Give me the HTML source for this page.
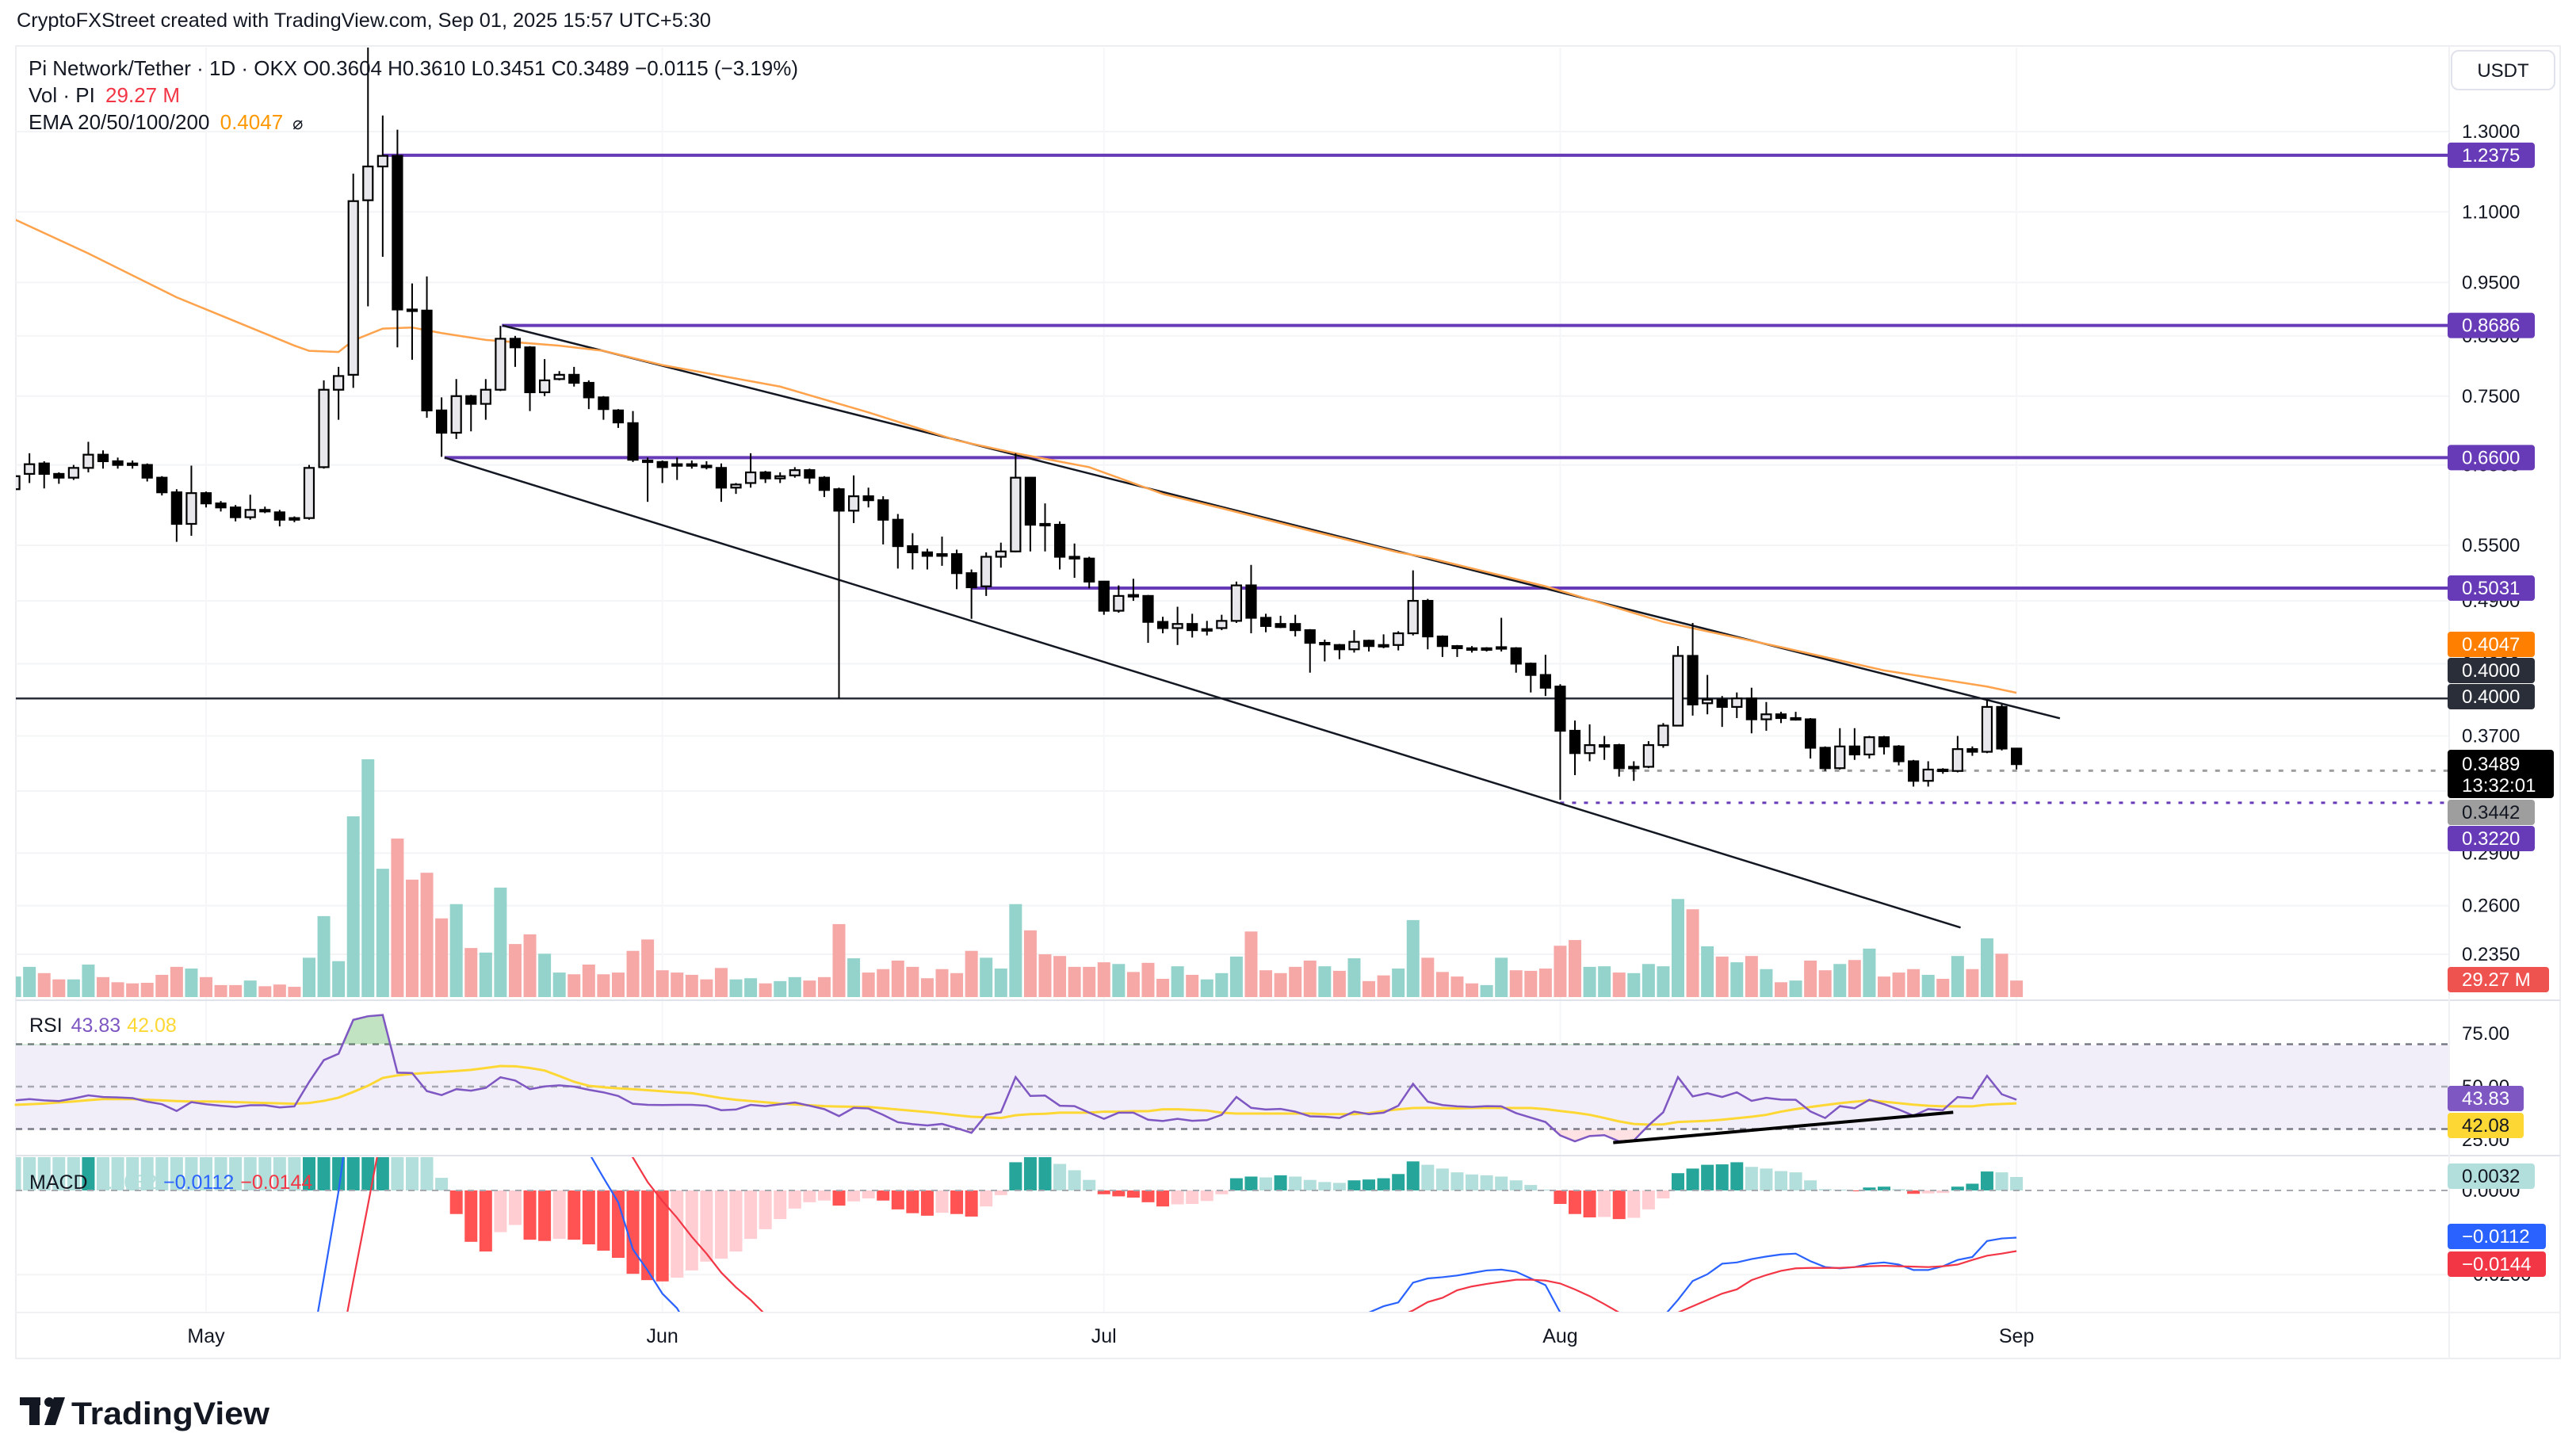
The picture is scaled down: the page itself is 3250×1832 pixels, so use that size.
<!DOCTYPE html>
<html><head><meta charset="utf-8"><title>Pi Network/Tether chart</title>
<style>
html,body{margin:0;padding:0;background:#fff;width:3250px;height:1832px;overflow:hidden;}
svg{display:block;font-family:"Liberation Sans",Arial,sans-serif;}
</style></head>
<body>
<svg id="chart" width="3250" height="1832" viewBox="0 0 3250 1832" xmlns="http://www.w3.org/2000/svg">
<defs>
<clipPath id="mainClip"><rect x="20" y="60" width="3070" height="1202"/></clipPath>
<clipPath id="rsiClip"><rect x="20" y="1264" width="3070" height="192"/></clipPath>
<clipPath id="macdClip"><rect x="20" y="1460" width="3070" height="195"/></clipPath>
<clipPath id="obClip"><rect x="20" y="1264" width="3070" height="54.5"/></clipPath>
<clipPath id="osClip"><rect x="20" y="1425.5" width="3070" height="32"/></clipPath>
</defs>
<rect x="0" y="0" width="3250" height="1832" fill="#ffffff"/>
<text x="21" y="34" font-size="25" fill="#131722" textLength="876" lengthAdjust="spacingAndGlyphs">CryptoFXStreet created with TradingView.com, Sep 01, 2025 15:57 UTC+5:30</text>
<rect x="20" y="58" width="3210" height="1656" fill="none" stroke="#eceef2" stroke-width="2"/>
<g id="grid"></g>
<rect x="20" y="1318.5" width="3070" height="107" fill="#f1edf9"/>
<g id="vol" clip-path="url(#mainClip)"></g>
<g id="levels" clip-path="url(#mainClip)"></g>
<g id="ema" clip-path="url(#mainClip)"></g>
<g id="candles" clip-path="url(#mainClip)"></g>
<g id="rsi"></g>
<g id="macd" clip-path="url(#macdClip)"></g>
<line x1="20" y1="1262" x2="3230" y2="1262" stroke="#e0e3eb" stroke-width="2"/>
<line x1="20" y1="1458" x2="3230" y2="1458" stroke="#e0e3eb" stroke-width="2"/>
<line x1="20" y1="1656" x2="3230" y2="1656" stroke="#f0f1f4" stroke-width="2"/>
<line x1="3090" y1="58" x2="3090" y2="1714" stroke="#f0f1f4" stroke-width="2"/>
<g id="axis"></g>
<g id="taxis"></g>
<rect x="3093" y="64" width="130" height="49" rx="9" fill="#fff" stroke="#e0e3eb" stroke-width="2"/>
<text x="3158" y="97" font-size="24" fill="#131722" text-anchor="middle">USDT</text>
<g font-size="26" fill="#131722">
<text x="36" y="95" textLength="971" lengthAdjust="spacingAndGlyphs">Pi Network/Tether · 1D · OKX  O0.3604  H0.3610  L0.3451  C0.3489  −0.0115 (−3.19%)</text>
<text x="36" y="129">Vol · PI <tspan fill="#f23645" dx="6">29.27 M</tspan></text>
<text x="36" y="163">EMA 20/50/100/200 <tspan fill="#ff9800" dx="6">0.4047</tspan><tspan dx="12" font-size="22">⌀</tspan></text>
<text x="37" y="1302" font-size="25">RSI <tspan fill="#7e57c2" dx="4">43.83</tspan><tspan fill="#fdd835" dx="8">42.08</tspan></text>
<text x="37" y="1500" font-size="25">MACD <tspan fill="#b2dfdb" dx="4">0.0032</tspan><tspan fill="#2962ff" dx="8">−0.0112</tspan><tspan fill="#f23645" dx="8">−0.0144</tspan></text>
</g>
<g fill="#131722">
<rect x="25" y="1763" width="26" height="10"/>
<rect x="37" y="1763" width="13" height="35"/>
<circle cx="62" cy="1769" r="6"/>
<polygon points="68,1763 82,1763 70,1798 56,1798"/>
<text x="90" y="1797" font-size="40" font-weight="bold" textLength="250" lengthAdjust="spacingAndGlyphs">TradingView</text>
</g>
</svg>
<script>
// ---------- data ----------
const startDay = -13; // Apr 18 = day -13, May 1 = day 0
const opens = [.618,.638,.652,.638,.633,.646,.664,.655,.652,.650,.633,.614,.575,.613,.600,.595,.583,.592,.589,.582,.582,.647,.760,.784,1.127,1.209,1.236,.898,.896,.728,.695,.750,.738,.760,.845,.830,.756,.777,.784,.771,.748,.728,.709,.656,.654,.651,.651,.649,.646,.620,.626,.640,.632,.636,.643,.633,.618,.591,.609,.604,.580,.549,.542,.540,.540,.519,.505,.537,.543,.633,.575,.574,.537,.535,.510,.480,.496,.495,.469,.463,.467,.462,.463,.470,.506,.473,.467,.467,.461,.449,.447,.443,.451,.447,.447,.458,.490,.455,.446,.444,.444,.444,.444,.430,.420,.410,.374,.357,.363,.363,.346,.347,.363,.378,.437,.396,.399,.393,.400,.383,.387,.384,.383,.361,.346,.362,.356,.369,.362,.351,.337,.345,.344,.360,.358,.393,.3604];
const highs = [.640,.666,.655,.640,.650,.682,.670,.660,.656,.652,.635,.618,.649,.615,.603,.598,.611,.596,.592,.584,.650,.775,.797,1.191,1.564,1.344,1.305,.948,.962,.748,.777,.752,.777,.868,.850,.832,.810,.790,.797,.775,.750,.730,.727,.660,.656,.660,.656,.655,.652,.626,.666,.642,.640,.647,.645,.635,.620,.636,.620,.609,.587,.564,.546,.560,.545,.523,.542,.553,.666,.634,.600,.578,.552,.537,.510,.506,.513,.496,.474,.484,.477,.470,.476,.510,.528,.477,.475,.476,.462,.452,.448,.461,.452,.457,.460,.522,.492,.456,.447,.446,.445,.473,.445,.431,.438,.412,.382,.379,.370,.364,.351,.366,.380,.446,.468,.420,.402,.405,.409,.397,.389,.389,.384,.362,.376,.376,.370,.370,.363,.352,.351,.346,.370,.362,.399,.395,.3610];
const lows = [.610,.626,.619,.625,.630,.640,.645,.645,.645,.628,.610,.554,.561,.595,.590,.578,.580,.588,.572,.577,.580,.645,.714,.763,.904,1.002,.830,.809,.717,.661,.686,.697,.714,.758,.797,.727,.750,.775,.765,.730,.714,.702,.654,.602,.626,.630,.645,.644,.602,.612,.620,.626,.626,.633,.625,.608,.400,.576,.595,.551,.524,.523,.523,.527,.502,.472,.495,.525,.542,.543,.543,.523,.514,.503,.476,.478,.490,.449,.458,.447,.454,.456,.461,.468,.458,.459,.463,.455,.422,.432,.434,.440,.441,.444,.442,.456,.443,.436,.436,.440,.441,.441,.422,.405,.402,.324,.341,.351,.352,.340,.337,.346,.361,.378,.386,.387,.377,.384,.372,.374,.380,.382,.353,.344,.345,.352,.353,.356,.348,.333,.333,.342,.343,.355,.357,.359,.3451];
const closes = [.635,.651,.638,.633,.646,.664,.655,.650,.651,.633,.614,.575,.613,.600,.595,.583,.592,.591,.580,.580,.646,.760,.782,1.125,1.209,1.236,.898,.896,.728,.695,.750,.738,.760,.845,.830,.756,.775,.784,.771,.748,.730,.710,.657,.654,.647,.650,.650,.648,.620,.624,.640,.632,.635,.643,.633,.617,.591,.609,.604,.580,.549,.542,.538,.538,.519,.504,.537,.543,.633,.574,.574,.537,.535,.510,.480,.495,.495,.469,.463,.467,.461,.462,.470,.506,.473,.465,.464,.461,.449,.449,.443,.450,.446,.446,.458,.490,.455,.446,.444,.443,.444,.445,.430,.420,.409,.374,.357,.363,.363,.346,.347,.363,.378,.437,.395,.399,.393,.400,.383,.387,.384,.384,.361,.346,.362,.356,.369,.362,.351,.337,.345,.344,.360,.358,.393,.3604,.3489];
const volumes = [36,53,42,31,31,57,35,26,24,25,39,53,50,35,21,21,29,19,22,18,69,142,63,317,417,225,278,206,218,138,163,86,78,192,93,110,76,43,40,57,40,43,81,101,47,43,39,31,51,31,33,24,28,35,29,35,128,68,43,49,64,53,33,49,42,81,69,50,163,117,75,72,53,53,61,58,44,60,32,54,39,31,42,71,115,47,42,53,64,54,46,68,28,38,50,135,69,44,36,24,21,69,47,46,50,90,100,53,54,43,42,58,54,172,154,89,71,61,72,49,26,29,64,47,58,65,85,36,43,49,39,32,72,49,103,76,29];
const emaDays = [-13,-8,-2,6,7,9,10,12,14,16,19,24,27,31,39,45,51,55,60,65,69,75,81,83,91,99,107,114,121,123];
const emaValues = [1.083,1.009,.921,.833,.824,.822,.842,.863,.865,.855,.843,.833,.824,.800,.765,.725,.684,.666,.647,.612,.594,.567,.542,.536,.505,.469,.445,.424,.410,.4047];
const rsiValues = [43.5,44.1,43.5,43.2,44.4,45.9,45.1,44.9,44.6,42.9,41.7,38.5,42.7,41.7,41.0,40.4,41.2,41.2,40.2,40.7,52.2,62.5,65.5,81.5,83.2,83.8,56.6,56.4,47.9,46.0,48.8,48.1,49.4,54.4,52.9,48.8,50.1,50.6,50.0,48.5,47.3,45.6,41.9,41.4,41.3,41.4,41.4,41.0,38.9,39.2,41.4,40.8,41.7,42.5,41.0,39.4,36.1,40.0,39.7,36.7,33.2,32.3,31.7,32.4,30.4,28.2,36.7,37.9,54.5,45.6,45.8,41.0,40.8,37.7,34.8,37.7,37.7,34.4,33.8,34.8,33.9,34.2,36.7,45.1,40.0,39.2,39.5,38.2,36.0,35.8,35.2,38.2,37.0,37.7,41.0,51.3,42.9,41.3,40.7,40.4,40.8,40.7,37.5,35.4,33.3,27.0,24.2,26.7,27.1,24.2,24.6,31.7,37.9,54.5,45.4,46.9,45.1,47.3,43.3,44.7,43.9,43.8,38.3,35.2,40.8,39.8,43.8,41.7,39.2,36.3,39.4,38.9,45.1,44.5,55.1,46.4,43.83];
const rsiMaValues = [41.4,41.7,42.0,42.5,43.0,43.6,44.1,44.1,44.1,43.8,43.5,43.2,43.0,43.0,42.9,42.7,42.5,42.3,42.1,41.9,42.3,43.3,44.8,47.5,50.4,54.1,55.3,56.0,56.5,56.9,57.4,57.9,58.8,59.7,59.6,58.8,57.6,55.0,52.3,50.4,49.7,49.2,48.8,48.3,47.8,47.3,46.9,45.8,44.6,43.8,43.2,42.6,42.0,41.6,41.2,40.8,40.6,40.5,40.4,39.8,39.2,38.6,38.0,37.3,36.5,35.8,35.5,35.2,36.5,37.0,37.2,37.7,37.7,37.7,38.2,38.2,38.4,38.4,39.3,39.3,39.0,38.7,37.7,37.3,37.3,37.3,37.3,37.3,37.3,37.0,37.0,37.0,37.5,38.5,39.3,39.9,40.0,39.8,39.7,39.9,40.0,39.9,39.9,39.9,39.4,38.5,37.7,36.7,35.2,33.6,32.4,32.1,32.2,33.3,33.6,33.9,34.4,35.1,35.8,36.7,38.2,39.4,40.4,41.3,42.2,42.9,43.5,42.9,42.2,41.5,41.0,40.7,40.7,40.7,41.5,41.8,42.08];
const histValues = [.030,.028,.026,.024,.022,.023,.021,.019,.017,.016,.015,.014,.013,.012,.011,.0105,.010,.0097,.0094,.0090,.012,.020,.030,.045,.060,.065,.055,.040,.030,.0030,-.0056,-.0122,-.0145,-.0099,-.0082,-.0117,-.0120,-.0115,-.0117,-.0128,-.0143,-.0160,-.0198,-.0213,-.0216,-.0207,-.0190,-.0169,-.0162,-.0145,-.0115,-.0092,-.0068,-.0043,-.0028,-.0024,-.0036,-.0026,-.0019,-.0024,-.0045,-.0054,-.0060,-.0053,-.0056,-.0062,-.0038,-.0011,.0067,.0085,.0092,.0063,.0048,.0025,-.0009,-.0014,-.0017,-.0028,-.0038,-.0033,-.0032,-.0025,-.0009,.0029,.0033,.0031,.0036,.0033,.0025,.0020,.0018,.0024,.0026,.0029,.0039,.0069,.0061,.0052,.0043,.0038,.0036,.0033,.0024,.0013,.0002,-.0032,-.0056,-.0064,-.0063,-.0068,-.0065,-.0045,-.0019,.0041,.0052,.0061,.0062,.0067,.0056,.0052,.0046,.0043,.0024,.0003,.0002,-.0002,.0007,.0009,.0003,-.0008,-.0007,-.0006,.0009,.0016,.0045,.0043,.0032];
const macdValues = [-.075,-.072,-.070,-.068,-.066,-.062,-.060,-.058,-.056,-.055,-.054,-.053,-.051,-.050,-.049,-.048,-.047,-.046,-.045,-.043,-.041,-.0208,-.0002,.025,.055,.075,.075,.070,.062,.052,.045,.038,.032,.030,.027,.022,.019,.016,.013,.009,.003,-.0028,-.014,-.019,-.0245,-.028,-.034,-.038,-.042,-.045,-.047,-.048,-.049,-.049,-.049,-.049,-.050,-.050,-.049,-.049,-.050,-.051,-.052,-.052,-.053,-.054,-.053,-.050,-.044,-.042,-.040,-.040,-.040,-.041,-.043,-.044,-.045,-.046,-.047,-.047,-.047,-.046,-.044,-.040,-.039,-.038,-.037,-.036,-.036,-.035,-.034,-.032,-.029,-.0275,-.0266,-.0219,-.0209,-.0206,-.0202,-.0196,-.0190,-.0188,-.0193,-.0209,-.0225,-.029,-.035,-.040,-.040,-.040,-.038,-.034,-.030,-.026,-.0215,-.0199,-.0174,-.0171,-.0163,-.0157,-.0152,-.0150,-.0168,-.0182,-.0185,-.0182,-.0174,-.0171,-.0176,-.0189,-.0189,-.0180,-.0165,-.0158,-.0120,-.0114,-.0112];
const signalValues = [-.105,-.100,-.096,-.092,-.088,-.085,-.081,-.077,-.073,-.071,-.069,-.067,-.064,-.062,-.060,-.0585,-.057,-.0557,-.0544,-.052,-.053,-.041,-.040,-.0215,-.0034,.015,.030,.035,.036,.045,.050,.050,.046,.040,.035,.034,.031,.028,.024,.020,.016,.012,.0078,.002,-.0025,-.0065,-.011,-.015,-.0195,-.023,-.026,-.0295,-.033,-.036,-.039,-.041,-.043,-.045,-.046,-.047,-.047,-.047,-.047,-.047,-.048,-.048,-.049,-.049,-.049,-.050,-.050,-.049,-.047,-.046,-.045,-.045,-.045,-.045,-.044,-.044,-.044,-.044,-.043,-.043,-.042,-.041,-.040,-.039,-.038,-.037,-.036,-.035,-.034,-.032,-.030,-.0285,-.0265,-.0255,-.0237,-.0228,-.0222,-.0217,-.0212,-.0212,-.0214,-.0221,-.0235,-.0251,-.027,-.029,-.031,-.031,-.030,-.029,-.0275,-.026,-.0245,-.0235,-.0213,-.0201,-.0191,-.0185,-.0184,-.0184,-.0184,-.0182,-.0180,-.0179,-.0180,-.0181,-.0182,-.0180,-.0176,-.0165,-.0155,-.0150,-.0144];
const priceTicks = [1.3,1.1,0.95,0.85,0.75,0.65,0.55,0.49,0.43,0.37,0.33,0.29,0.26,0.235];
const rsiTicks = [75,50,25];
const macdTicks = [0,-0.02];
const monthLabels = ['May','Jun','Jul','Aug','Sep'];
const monthDays = [0,31,61,92,123];
// horizontal levels: price, start day
const levelPrices = [1.2375,0.8686,0.66,0.5031];
const levelStarts = [12,20.1,16.2,52];
// trend line anchors (day, price)
const upperTrend = [[20.14,0.8686],[125.95,0.3838]];
const lowerTrend = [[16.2,0.66],[119.2,0.2484]];
const rsiDivergence = [[95.6,23.6],[118.7,37.9]];

// ---------- scales ----------
const NS='http://www.w3.org/2000/svg';
const xD = d => 260 + d*18.57;
const yP = p => 166 + (Math.log(1.3) - Math.log(p))*606.8;
const yV = v => 1258 - v*0.7194;
const yR = v => 1371 - (v-50)*2.675;
const yM = v => 1502 - v*5312;
function mk(tag, attrs, parent){const e=document.createElementNS(NS,tag);for(const k in attrs)e.setAttribute(k,attrs[k]);parent.appendChild(e);return e;}
const $ = id => document.getElementById(id);

// grid
const grid=$('grid');
priceTicks.forEach(p=>{
  const l=mk('line',{x1:20,x2:3090,y1:yP(p),y2:yP(p),stroke:'#f3f4f6','stroke-width':2},grid);
  
  
});
monthDays.forEach(d=>{
  const l=mk('line',{x1:xD(d),x2:xD(d),y1:60,y2:1656,stroke:'#f5f6f8','stroke-width':2},grid);
  
  
});
[yM(-0.02)].forEach(y=>{
  const l=mk('line',{x1:20,x2:3090,y1:y,y2:y,stroke:'#f3f4f6','stroke-width':2},grid);
  
  
});

// volume
const vol=$('vol');
volumes.forEach((v,i)=>{
  const d=startDay+i, up=closes[i]>=opens[i];
  const r=mk('rect',{x:xD(d)-8,y:yV(v),width:16,height:1258-yV(v),fill:up?'#93d3cb':'#f6a8a7'},vol);
  
  
});

// levels
const lv=$('levels');
levelPrices.forEach((p,i)=>{
  const l=mk('line',{x1:xD(levelStarts[i]),x2:3090,y1:yP(p),y2:yP(p),stroke:'#673ab7','stroke-width':4},lv);
  
  
});
const l40=mk('line',{x1:20,x2:3090,y1:yP(0.4),y2:yP(0.4),stroke:'#2a2e39','stroke-width':2.5},lv);


const lcur=mk('line',{x1:xD(96),x2:3090,y1:yP(0.3442),y2:yP(0.3442),stroke:'#9e9e9e','stroke-width':3,'stroke-dasharray':'6,10'},lv);


const lsup=mk('line',{x1:xD(92),x2:3090,y1:yP(0.322),y2:yP(0.322),stroke:'#673ab7','stroke-width':3,'stroke-dasharray':'5,10'},lv);


[upperTrend,lowerTrend].forEach((t,i)=>{
  const l=mk('line',{x1:xD(t[0][0]),y1:yP(t[0][1]),x2:xD(t[1][0]),y2:yP(t[1][1]),stroke:'#131722','stroke-width':2.5},lv);
  
  
});

// ema
const ema=mk('polyline',{points:emaDays.map((d,i)=>xD(d)+','+yP(emaValues[i])).join(' '),fill:'none',stroke:'#ffa24c','stroke-width':2.5},$('ema'));



// candles
const cg=$('candles');
opens.forEach((o,i)=>{
  const d=startDay+i,c=closes[i],x=xD(d),up=c>=o;
  const w=mk('line',{x1:x,x2:x,y1:yP(highs[i]),y2:yP(lows[i]),stroke:'#000','stroke-width':2},cg);
  
  
  const t=yP(Math.max(o,c)),b=yP(Math.min(o,c));
  const r=mk('rect',{x:x-6,y:t,width:12,height:Math.max(b-t,2),fill:up?'#e8e8ec':'#000',stroke:'#000','stroke-width':2.2},cg);
  
  
});

// rsi
const rg=$('rsi');
[[70,'#787b86','8,7'],[50,'#a6a9b0','8,7'],[30,'#787b86','8,7']].forEach(b=>{
  const l=mk('line',{x1:20,x2:3090,y1:yR(b[0]),y2:yR(b[0]),stroke:b[1],'stroke-width':2.5,'stroke-dasharray':b[2]},rg);
  
  
});
const rpts=rsiValues.map((v,i)=>xD(startDay+i)+','+yR(v));
const first=xD(startDay), last=xD(startDay+rsiValues.length-1);
const ob=mk('polygon',{points:first+','+yR(70)+' '+rpts.join(' ')+' '+last+','+yR(70),fill:'rgba(76,175,80,0.35)','clip-path':'url(#obClip)'},rg);


const os=mk('polygon',{points:first+','+yR(30)+' '+rpts.join(' ')+' '+last+','+yR(30),fill:'rgba(242,54,69,0.15)','clip-path':'url(#osClip)'},rg);


const rma=mk('polyline',{points:rsiMaValues.map((v,i)=>xD(startDay+i)+','+yR(v)).join(' '),fill:'none',stroke:'#fdd835','stroke-width':3},rg);


const rl=mk('polyline',{points:rpts.join(' '),fill:'none',stroke:'#7e57c2','stroke-width':2.5,'clip-path':'url(#rsiClip)'},rg);


const dv=mk('line',{x1:xD(rsiDivergence[0][0]),y1:yR(rsiDivergence[0][1]),x2:xD(rsiDivergence[1][0]),y2:yR(rsiDivergence[1][1]),stroke:'#000','stroke-width':4},rg);



// macd
const mg=$('macd');
histValues.forEach((v,i)=>{
  const prev=i>0?histValues[i-1]:v+1;
  let col;
  if(v>=0) col=v>prev?'#26a69a':'#b2dfdb'; else col=v<prev?'#ff5252':'#ffcdd2';
  const y0=yM(0),y1=yM(v);
  const r=mk('rect',{x:xD(startDay+i)-8,y:Math.min(y0,y1),width:16,height:Math.abs(y1-y0),fill:col},mg);
  
  
});
const zl=mk('line',{x1:20,x2:3090,y1:yM(0),y2:yM(0),stroke:'#a6a9b0','stroke-width':2,'stroke-dasharray':'8,7'},mg);


const ml=mk('polyline',{points:macdValues.map((v,i)=>xD(startDay+i)+','+yM(v)).join(' '),fill:'none',stroke:'#2962ff','stroke-width':2.2},mg);


const sl=mk('polyline',{points:signalValues.map((v,i)=>xD(startDay+i)+','+yM(v)).join(' '),fill:'none',stroke:'#f23645','stroke-width':2.2},mg);



// price axis labels
const ax=$('axis');
function tick(txt,y){
  const t=mk('text',{x:3106,y:y+8,'font-size':24,fill:'#131722'},ax);
  t.textContent=txt;
  
  
}
priceTicks.forEach(p=>tick(p.toFixed(4),yP(p)));
rsiTicks.forEach(v=>tick(v.toFixed(2),yR(v)));
macdTicks.forEach(v=>tick((v<0?'−':'')+Math.abs(v).toFixed(4),yM(v)));
function badge(txt,y,bg,fg,w){
  const r=mk('rect',{x:3088,y:y-16,width:w||110,height:32,rx:4,fill:bg},ax);
  
  
  const t=mk('text',{x:3106,y:y+8,'font-size':24,fill:fg},ax);
  t.textContent=txt;
  
  
}
levelPrices.forEach(p=>badge(p.toFixed(4),yP(p),'#673ab7','#fff'));
badge('0.4047',813,'#ff7f00','#fff');
badge('0.4000',846,'#2a2e39','#fff');
badge('0.4000',879,'#2a2e39','#fff');
const cb=mk('rect',{x:3088,y:946,width:134,height:61,rx:4,fill:'#000'},ax);


const ct=mk('text',{x:3106,y:972,'font-size':24,fill:'#fff'},ax);
ct.textContent='0.3489';


const cd=mk('text',{x:3106,y:999,'font-size':24,fill:'#fff'},ax);
cd.textContent='13:32:01';


badge('0.3442',1025,'#9e9e9e','#131722');
badge('0.3220',1058,'#673ab7','#fff');
badge('29.27 M',1236,'#ef5350','#fff',128);
badge('43.83',1386,'#7e57c2','#fff',96);
badge('42.08',1420,'#fdd835','#131722',96);
badge('0.0032',1484,'#b2dfdb','#131722');
badge('−0.0112',1560,'#2962ff','#fff',124);
badge('−0.0144',1595,'#f23645','#fff',124);

// time axis
const ta=$('taxis');
monthLabels.forEach((m,i)=>{
  const t=mk('text',{x:xD(monthDays[i]),y:1694,'font-size':25,fill:'#131722','text-anchor':'middle'},ta);
  t.textContent=m;
  
  
});
</script>
</body></html>
